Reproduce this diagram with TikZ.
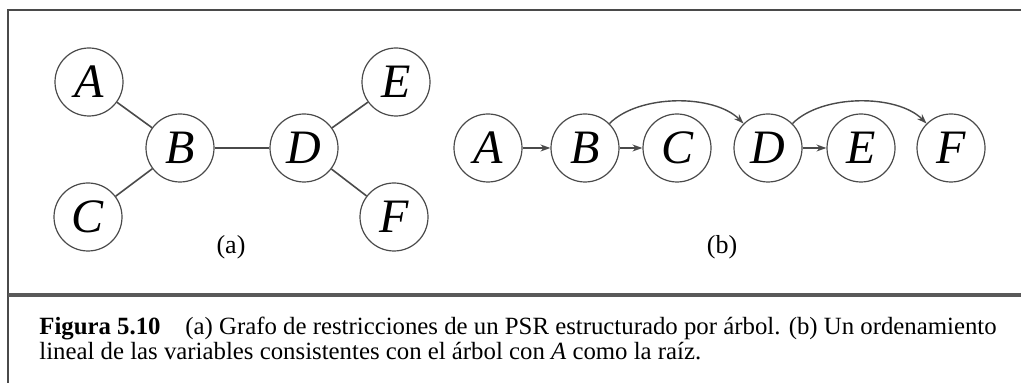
\documentclass[tikz,border=0pt]{standalone}
\usepackage{fontspec}
\setmainfont{Liberation Serif}
\usetikzlibrary{positioning,arrows.meta}
\definecolor{inkgray}{HTML}{4A4A4A}

\begin{document}
\begin{tikzpicture}[
    x=0.5pt, y=-0.5pt,
    varnode/.style={circle, draw=inkgray, line width=0.6pt, minimum size=34pt, inner sep=0pt, font=\fontsize{24}{28}\selectfont\itshape},
    edge/.style={draw=inkgray, line width=0.8pt},
    arc/.style={draw=inkgray, line width=0.7pt, -{Stealth[length=5pt,width=3.5pt]}},
    sublabel/.style={font=\fontsize{13}{15}\selectfont}
]
    \useasboundingbox (0,0) rectangle (1021,383);

    % Marco y separador
    \draw[inkgray, line width=0.6pt] (1021,10) -- (8,10) -- (8,383);
    \draw[black!65, line width=2pt] (8,295) -- (1021,295);

    % (a) Grafo de restricciones
    \node[varnode] (a1) at (89,82) {A};
    \node[varnode] (b1) at (180,148) {B};
    \node[varnode] (c1) at (88,217) {C};
    \node[varnode] (d1) at (304,148) {D};
    \node[varnode] (e1) at (396,82) {E};
    \node[varnode] (f1) at (394,217) {F};

    \draw[edge] (a1) -- (b1);
    \draw[edge] (c1) -- (b1);
    \draw[edge] (b1) -- (d1);
    \draw[edge] (d1) -- (e1);
    \draw[edge] (d1) -- (f1);

    \node[sublabel] (la) at (231,247) {(a)};

    % (b) Ordenamiento lineal
    \node[varnode] (a2) at (488,148) {A};
    \node[varnode] (b2) at (585,148) {B};
    \node[varnode] (c2) at (677,148) {C};
    \node[varnode] (d2) at (768,148) {D};
    \node[varnode] (e2) at (861,148) {E};
    \node[varnode] (f2) at (951,148) {F};

    \draw[arc] (a2) -- (b2);
    \draw[arc] (b2) -- (c2);
    \draw[arc] (d2) -- (e2);
    \draw[arc] (b2) to[out=45, in=135, looseness=0.8] (d2);
    \draw[arc] (d2) to[out=45, in=135, looseness=0.8] (f2);

    \node[sublabel] (lb) at (722,247) {(b)};

    % Pie de figura
    \node[anchor=north west, align=left, inner sep=0pt, font=\fontsize{12.4}{11.2}\selectfont] (cap) at (39,317)
        {\textbf{Figura 5.10}\quad (a) Grafo de restricciones de un PSR estructurado por árbol. (b) Un ordenamiento\\
         lineal de las variables consistentes con el árbol con \textit{A} como la raíz.};
\end{tikzpicture}
\end{document}
